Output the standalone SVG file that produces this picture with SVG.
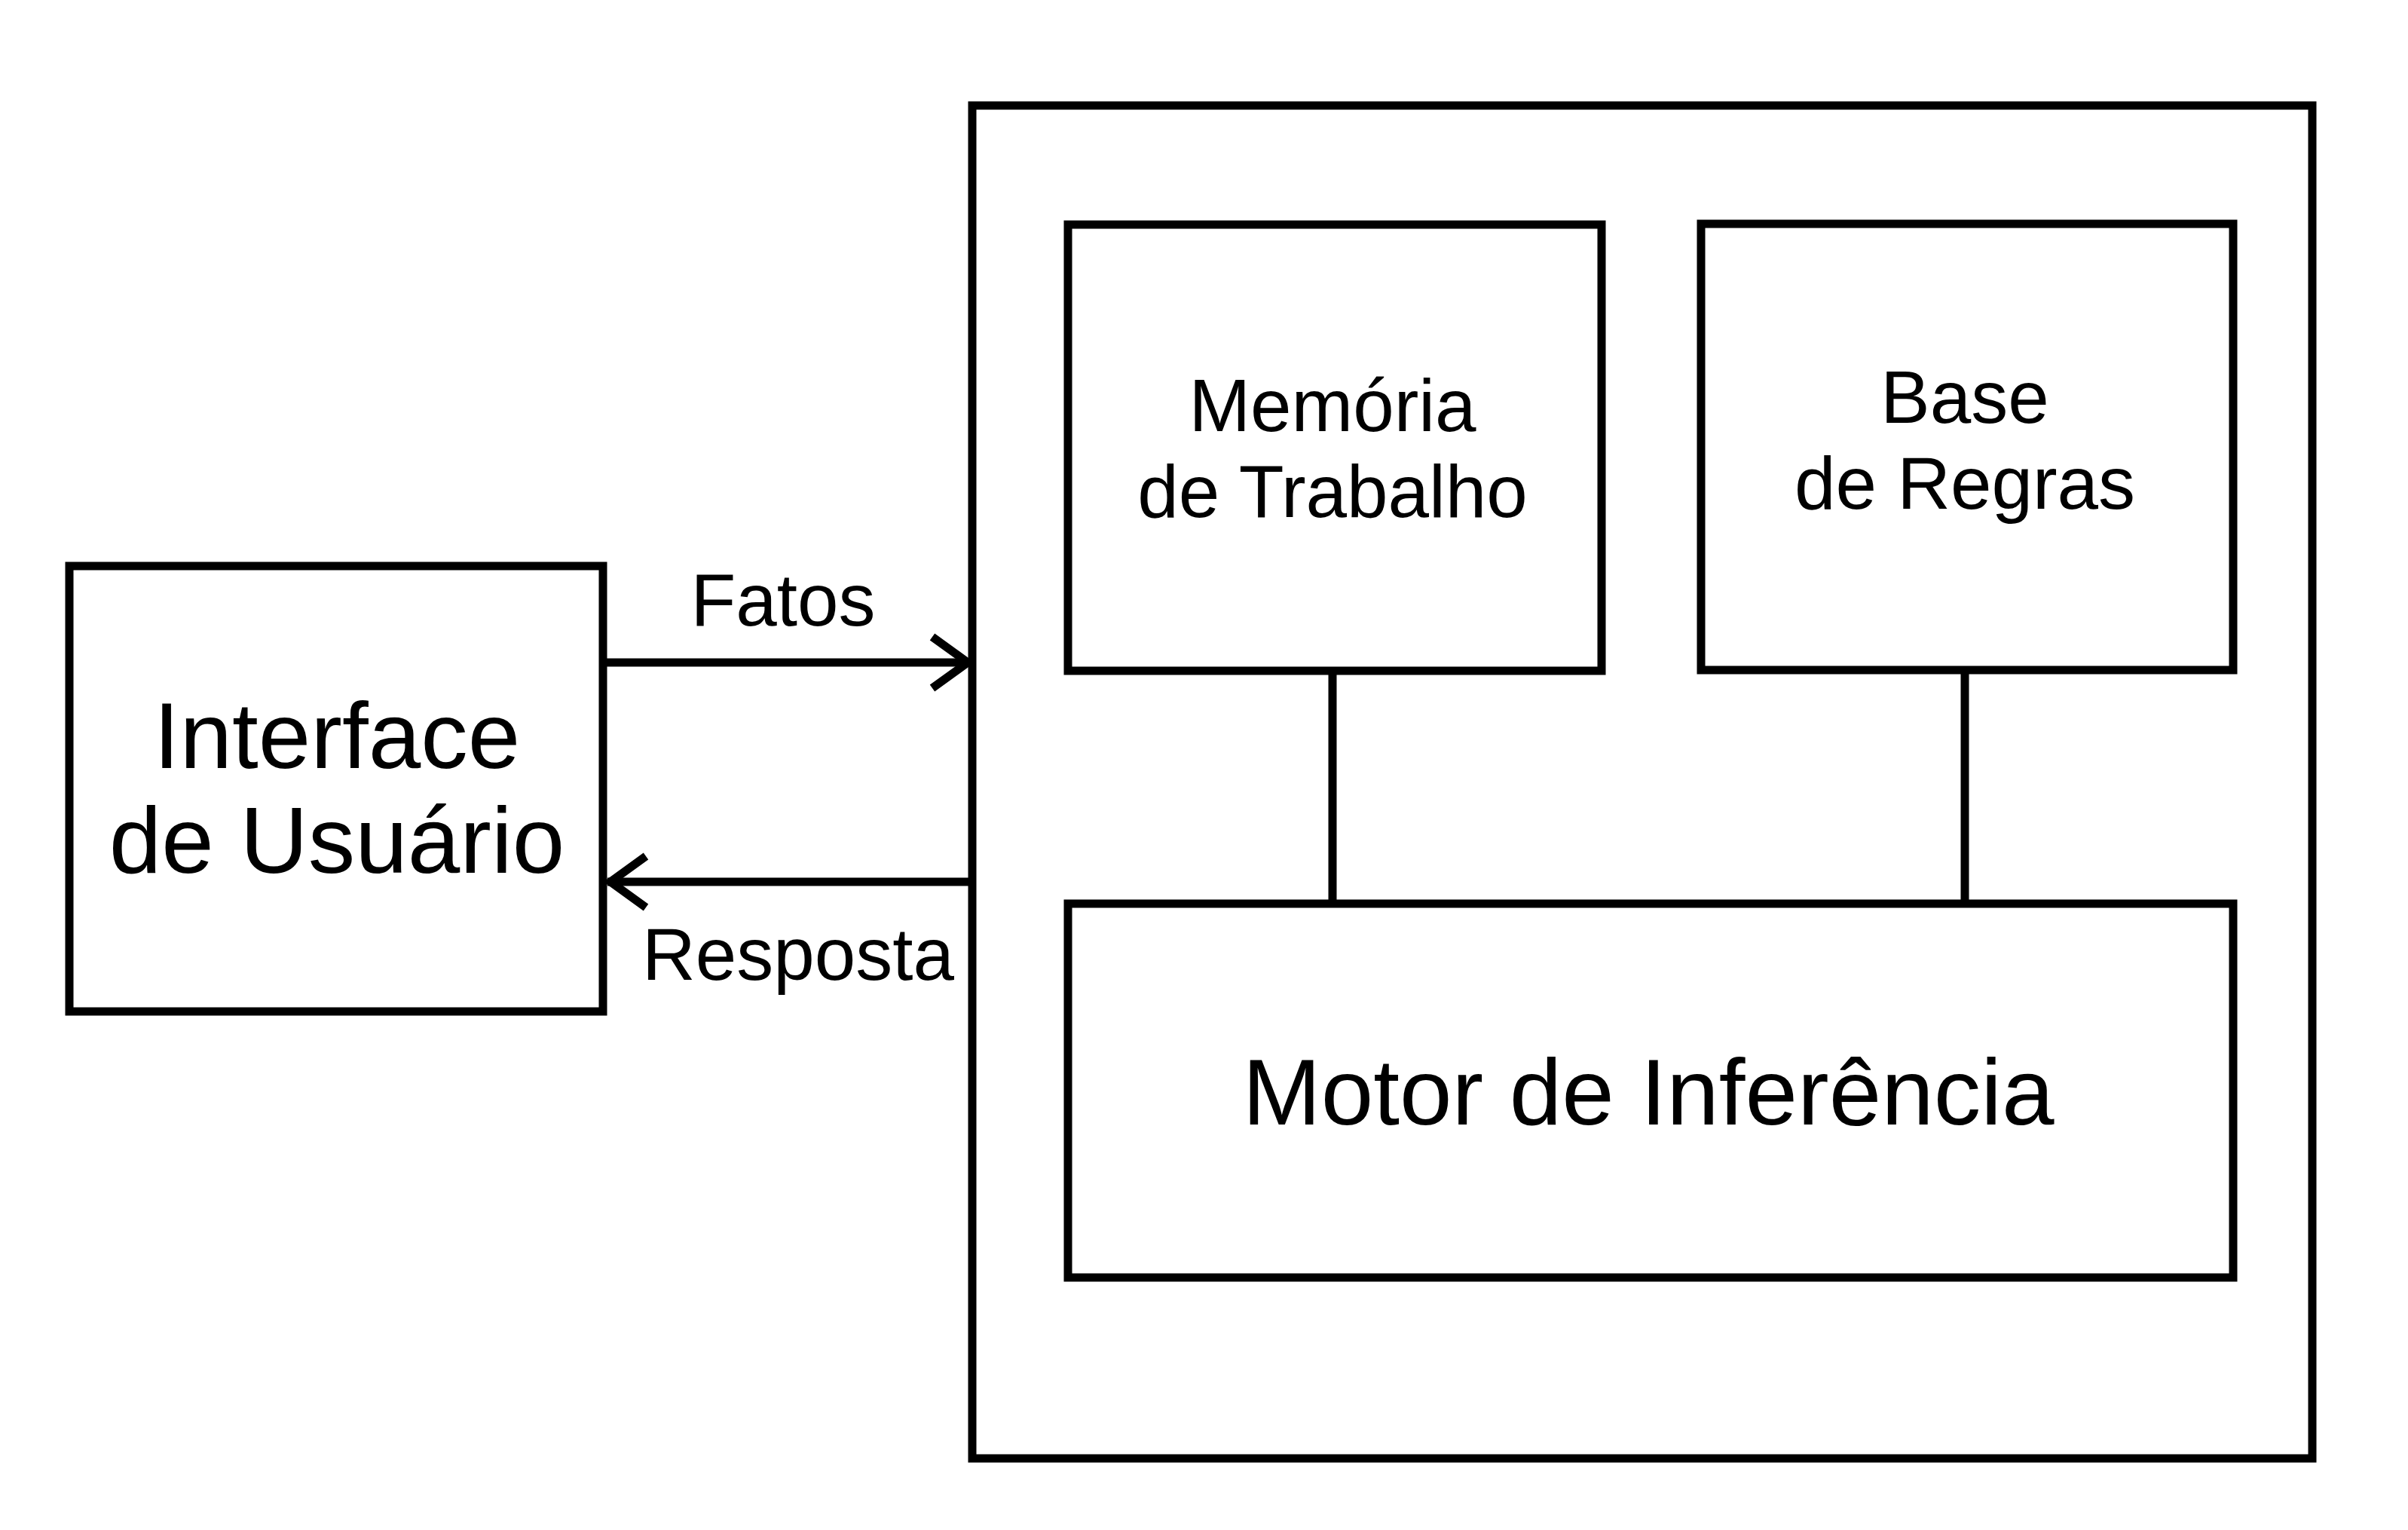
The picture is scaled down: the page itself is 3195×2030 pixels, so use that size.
<svg xmlns="http://www.w3.org/2000/svg" width="3195" height="2030" viewBox="0 0 3195 2030">
<style>
.box{fill:#fff;stroke:#000;stroke-width:11}
.ln{fill:none;stroke:#000;stroke-width:11}
.t{font-family:"Liberation Sans",Arial,sans-serif;fill:#000;text-anchor:middle}
.big{font-size:125px}
.sm{font-size:98px}
</style>
<rect width="3195" height="2030" fill="#fff"/>
<g id="sistema">
<rect class="box" x="1290" y="140" width="1778" height="1795"/>
</g>
<g id="interface">
<rect class="box" x="92" y="751" width="708" height="591"/>
<text class="t big" x="447" y="1019">Interface</text>
<text class="t big" x="447" y="1158">de Usuário</text>
</g>
<g id="memoria">
<rect class="box" x="1417" y="298" width="708" height="592"/>
<text class="t sm" x="1768" y="572">Memória</text>
<text class="t sm" x="1768" y="686">de Trabalho</text>
</g>
<g id="base">
<rect class="box" x="2257" y="297" width="706" height="592"/>
<text class="t sm" x="2607" y="561">Base</text>
<text class="t sm" x="2607" y="675">de Regras</text>
</g>
<g id="motor">
<rect class="box" x="1417" y="1199" width="1546" height="496"/>
<text class="t big" x="2187" y="1492">Motor de Inferência</text>
</g>
<g id="connectors">
<line class="ln" x1="800" y1="879" x2="1288" y2="879"/>
<polyline class="ln" points="1237,845 1284,879 1237,913"/>
<line class="ln" x1="1290" y1="1170" x2="806" y2="1170"/>
<polyline class="ln" points="857,1136 810,1170 857,1204"/>
<line class="ln" x1="1768" y1="890" x2="1768" y2="1199"/>
<line class="ln" x1="2607" y1="889" x2="2607" y2="1199"/>
<text class="t sm" x="1039" y="830">Fatos</text>
<text class="t sm" x="1059" y="1300">Resposta</text>
</g>
</svg>
